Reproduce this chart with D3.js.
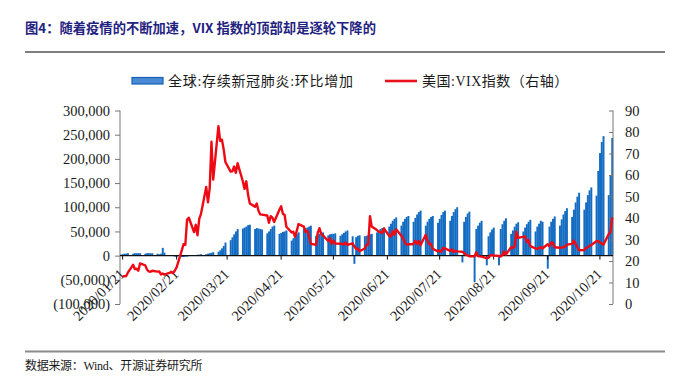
<!DOCTYPE html>
<meta charset="utf-8">
<script src="https://cdn.jsdelivr.net/npm/d3@7"></script>
<style>
  body { margin: 0; background: #fff; }
  text { font-family: "Liberation Serif", "Noto Sans CJK SC", serif; fill: #1a1a1a; }
</style>
<div id="chart"></div>
<script>

// both series sit on the same weekday grid, starting Monday 2020-01-20 (Mon..Fri per row)
var firstDay = "2020-01-20";

// 全球:存续新冠肺炎:环比增加 (left axis)
var caseChange = [
  2000, 3000, 4000, 4000, 5000,
  4000, 5000, 5000, 5000, 5000,
  4000, 5000, 5000, 5000, 5000,
  4000, 3000, 4000, 16000, 6000,
  1000, 0, -1000, -2000, -3000,
  -3000, -3000, -2000, -2000, -1000,
  1000, 1000, 2000, 2000, 3000,
  3000, 4000, 5000, 6000, 7000,
  8000, 11000, 15000, 20000, 27000,
  32000, 38000, 44000, 50000, 55000,
  56000, 58000, 60000, 63000, 64000,
  55000, 57000, 56000, 55000, 54000,
  46000, 50000, 55000, 60000, 62000,
  45000, 47000, 49000, 50000, 52000,
  31000, 36000, 40000, 45000, 48000,
  55000, 57000, 58000, 60000, 62000,
  41000, 43000, 45000, 46000, 48000,
  42000, 44000, 45000, 45000, 46000,
  41000, 44000, 47000, 50000, 52000,
  40000, -17000, 38000, 41000, 42000,
  40000, 41000, 43000, 44000, 45000,
  48000, 52000, 55000, 57000, 58000,
  60000, 66000, 72000, 76000, 79000,
  62000, 70000, 76000, 80000, 82000,
  70000, 78000, 85000, 90000, 93000,
  62000, 70000, 76000, 80000, 82000,
  68000, 76000, 84000, 90000, 93000,
  72000, 82000, 90000, 96000, 100000,
  -14000, 70000, 80000, 87000, 91000,
  -55000, 55000, 62000, 68000, 72000,
  -20000, 40000, 48000, 54000, 58000,
  -20000, 55000, 65000, 72000, 77000,
  45000, 52000, 60000, 66000, 69000,
  50000, 58000, 65000, 70000, 74000,
  50000, 60000, 66000, 72000, 70000,
  -27000, 60000, 70000, 76000, 81000,
  62000, 75000, 85000, 92000, 98000,
  80000, 95000, 110000, 122000, 130000,
  95000, 110000, 125000, 135000, 141000,
  124000, 175000, 212000, 235000, 247000,
  125000, 165000, 243000
];

// 美国:VIX指数 (right axis), null = market closed
var vixClose = [
  null, 12.85, 12.91, 12.98, 14.56,
  18.23, 16.28, 16.39, 15.49, 18.84,
  17.97, 16.05, 15.15, 14.96, 15.47,
  15.04, 15.18, 13.74, 14.15, 13.68,
  null, 14.83, 14.38, 15.56, 17.08,
  25.03, 27.85, 27.56, 39.16, 40.11,
  33.42, 36.82, 31.99, 39.62, 41.94,
  54.46, 47.30, 53.90, 75.47, 57.83,
  82.69, 75.91, 76.45, 72.00, 66.04,
  61.59, 61.67, 63.95, 61.00, 65.54,
  57.08, 53.54, 57.06, 50.91, 46.80,
  45.24, 46.70, 43.35, 41.67, null,
  41.17, 37.76, 40.84, 40.11, 38.15,
  43.83, 45.41, 41.98, 41.38, 35.93,
  33.29, 33.57, 31.23, 34.15, 37.19,
  35.97, 33.61, 34.12, 31.44, 27.98,
  27.57, 33.04, 35.28, 32.61, 31.89,
  29.30, 30.53, 27.99, 29.53, 28.16,
  null, 28.01, 27.62, 28.59, 27.51,
  28.23, 26.84, 25.66, 25.81, 24.52,
  25.81, 27.57, 27.57, 40.79, 36.09,
  34.40, 33.67, 33.47, 32.94, 35.12,
  31.77, 31.37, 33.84, 32.22, 34.73,
  31.78, 30.43, 28.62, 27.68, null,
  27.94, 29.43, 28.08, 29.26, 27.29,
  32.19, 29.52, 27.76, 28.00, 25.68,
  24.46, 24.84, 24.32, 26.08, 25.84,
  24.74, 25.44, 24.10, 24.76, 24.46,
  24.28, 23.76, 22.99, 22.65, 22.21,
  22.13, 24.03, 22.28, 22.13, 22.05,
  21.35, 21.51, 22.54, 22.72, 22.54,
  22.37, 22.03, 22.85, 24.47, 22.96,
  26.41, 26.12, 26.57, 33.60, 30.75,
  null, 31.46, 28.81, 29.71, 26.87,
  25.85, 25.59, 26.04, 26.46, 25.83,
  27.78, 26.86, 28.58, 28.51, 26.38,
  26.19, 26.27, 26.37, 26.70, 27.63,
  27.96, 29.48, 28.06, 26.36, 25.00,
  25.07, 26.07, 26.40, 26.97, 27.41,
  29.18, 29.35, 28.65, 28.11, 27.55,
  32.46, 33.35, 40.28
];

var monthTicks = ["2020/01/21", "2020/02/21", "2020/03/21", "2020/04/21", "2020/05/21",
                  "2020/06/21", "2020/07/21", "2020/08/21", "2020/09/21", "2020/10/21"];
var leftTicks = [-100000, -50000, 0, 50000, 100000, 150000, 200000, 250000, 300000];
var rightTicks = [0, 10, 20, 30, 40, 50, 60, 70, 80, 90];

var width = 695, height = 391;
var plotL = 120, plotR = 613, plotT = 110.5, plotB = 304;

var svg = d3.select("#chart").append("svg")
  .attr("width", width)
  .attr("height", height);

var parseDay = d3.utcParse("%Y-%m-%d");
var parseTick = d3.utcParse("%Y/%m/%d");
var start = parseDay(firstDay);
function dayOf(i) { return d3.utcDay.offset(start, Math.floor(i / 5) * 7 + i % 5); }

var x = d3.scaleUtc()
  .domain([new Date(Date.UTC(2020, 0, 19, 12)), new Date(Date.UTC(2020, 9, 28, 12))])
  .range([plotL, plotR]);
var yL = d3.scaleLinear().domain([-100000, 300000]).range([plotB, plotT]);
var yR = d3.scaleLinear().domain([0, 90]).range([plotB, plotT]);

var bars = caseChange.map(function(v, i) { return {date: dayOf(i), value: v}; });
var vix = vixClose.map(function(v, i) { return {date: dayOf(i), value: v}; })
  .filter(function(d) { return d.value != null; });

// title + rules
svg.append("text")
  .attr("x", 25).attr("y", 33)
  .style("font-family", "'Noto Sans CJK SC', sans-serif")
  .style("font-weight", "bold").style("font-size", "13.3px")
  .style("fill", "#1f2280")
  .text("图4：随着疫情的不断加速，VIX 指数的顶部却是逐轮下降的");
svg.append("line").attr("x1", 25).attr("x2", 665).attr("y1", 52).attr("y2", 52)
  .attr("stroke", "#555").attr("stroke-width", 1.3);
svg.append("line").attr("x1", 25).attr("x2", 665).attr("y1", 351.5).attr("y2", 351.5)
  .attr("stroke", "#8a8a8a").attr("stroke-width", 2);
svg.append("text")
  .attr("x", 25).attr("y", 370)
  .style("font-size", "12px").style("letter-spacing", "-0.3px")
  .text("数据来源：Wind、开源证券研究所");

// legend
var lg = svg.append("g").style("font-size", "14px");
lg.append("rect").attr("x", 132).attr("y", 77.5).attr("width", 31).attr("height", 6.5)
  .attr("fill", "#4a8ad4").attr("stroke", "#1660b8").attr("stroke-width", 1.2);
lg.append("text").attr("x", 168).attr("y", 86).style("letter-spacing", "0.7px")
  .text("全球:存续新冠肺炎:环比增加");
lg.append("line").attr("x1", 385).attr("x2", 417).attr("y1", 81).attr("y2", 81)
  .attr("stroke", "#e8101a").attr("stroke-width", 2.6);
lg.append("text").attr("x", 422).attr("y", 86).style("letter-spacing", "0.5px")
  .text("美国:VIX指数（右轴）");

// bars
var dayW = x(d3.utcDay.offset(start, 1)) - x(start);
svg.append("g")
  .selectAll("rect")
  .data(bars)
  .enter()
  .append("rect")
  .attr("x", function(d) { return x(d.date) - dayW / 2; })
  .attr("width", dayW + 0.2)
  .attr("y", function(d) { return yL(Math.max(0, d.value)); })
  .attr("height", function(d) { return Math.abs(yL(d.value) - yL(0)); })
  .attr("fill", "#136cc2");

// axes
var leftAxis = d3.axisLeft(yL).tickValues(leftTicks).tickSize(5).tickPadding(5)
  .tickFormat(function(v) {
    var s = d3.format(",")(Math.abs(v));
    return v < 0 ? "(" + s + ")" : s;
  });
var gl = svg.append("g").attr("transform", "translate(" + plotL + ",0)").call(leftAxis);
gl.select(".domain").attr("stroke", "#777").attr("d", "M0," + plotT + "V" + plotB);

var rightAxis = d3.axisRight(yR).tickValues(rightTicks).tickSize(0).tickPadding(12);
var gr = svg.append("g").attr("transform", "translate(" + plotR + ",0)").call(rightAxis);
gr.select(".domain").attr("stroke", "#777").attr("d", "M0," + plotT + "V" + plotB);
gr.selectAll(".tick").append("line").attr("x1", -4).attr("x2", 0).attr("stroke", "#777");

svg.selectAll(".tick line").attr("stroke", "#777");
svg.selectAll(".tick text").style("font-size", "14.5px").style("fill", "#1a1a1a");

// date axis along zero
var tickDates = monthTicks.map(parseTick);
svg.append("line").attr("x1", plotL).attr("x2", plotR)
  .attr("y1", yL(0)).attr("y2", yL(0))
  .attr("stroke", "#111").attr("stroke-width", 1.3);
svg.append("g").selectAll("line").data(tickDates).enter().append("line")
  .attr("x1", function(d) { return x(d); }).attr("x2", function(d) { return x(d); })
  .attr("y1", yL(0)).attr("y2", yL(0) + 4)
  .attr("stroke", "#111");
svg.append("g").selectAll("text").data(monthTicks).enter().append("text")
  .attr("transform", function(d) { return "translate(" + (x(parseTick(d)) + 3) + "," + 275 + ") rotate(-45)"; })
  .attr("text-anchor", "end")
  .style("font-size", "14.5px")
  .text(function(d) { return d; });

// VIX line
var line = d3.line()
  .x(function(d) { return x(d.date); })
  .y(function(d) { return yR(d.value); });
svg.append("path")
  .datum(vix)
  .attr("d", line)
  .attr("fill", "none")
  .attr("stroke", "#ee0a14")
  .attr("stroke-width", 2.4)
  .attr("stroke-linejoin", "round");

</script>
